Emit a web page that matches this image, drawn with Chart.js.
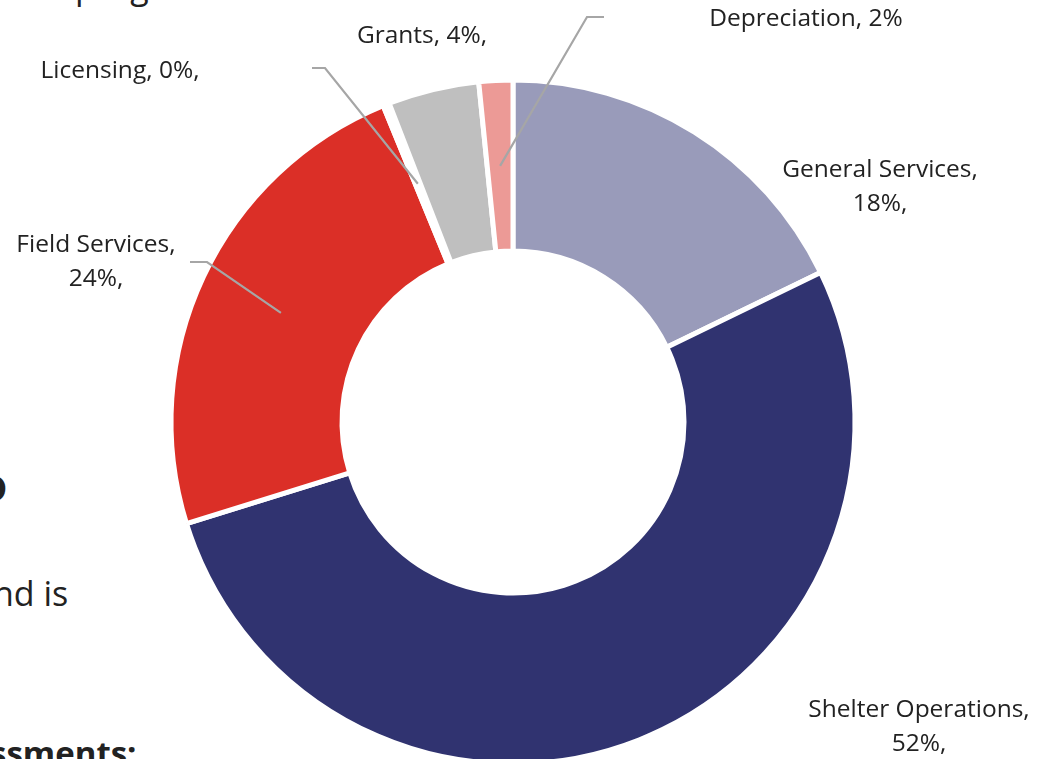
<!DOCTYPE html>
<html lang="en">

<head>
    <meta charset="UTF-8">
    <title>Expenses by program</title>
    <script src="https://cdn.jsdelivr.net/npm/chart.js"></script>
    <style>
        html, body {
            margin: 0;
            padding: 0;
            width: 1038px;
            height: 759px;
            overflow: hidden;
            background: #fff;
            font-family: 'Open Sans', sans-serif;
            color: #222;
        }

        .frag {
            position: absolute;
            white-space: nowrap;
            line-height: 1;
        }

        #chart-box {
            position: absolute;
            left: 0;
            top: 0;
            width: 1038px;
            height: 844px;
        }
    </style>
</head>

<body>
    <!-- bits of the surrounding document text, cut off by the crop -->
    <div class="frag" style="left:75px; top:-31px; font-size:34px;">program</div>
    <div class="frag" style="left:-20px; top:462px; font-size:44px; font-weight:700;">o</div>
    <div class="frag" style="left:-26px; top:576px; font-size:34px;">and is</div>
    <div class="frag" style="left:-10px; top:736px; font-size:33px; font-weight:700;">ssments:</div>

    <div id="chart-box">
        <canvas id="donut"></canvas>
    </div>

    <script>
        // data
        var categories = ['General Services', 'Shelter Operations', 'Field Services', 'Licensing', 'Grants', 'Depreciation'];
        var shares = [17.8, 52.4, 23.6, 0.3, 4.3, 1.6];
        var colors = ['#999bba', '#303370', '#db2f27', '#ffffff', '#bfbfbf', '#ec9a96'];

        // where each data label sits, relative to the centre of the ring
        // (lead = elbow point of the leader line, tail = end of its short flat part)
        var labelLayout = [
            { x: 367, y: -235, wrap: true, comma: true },
            { x: 406, y: 305, wrap: true, comma: true },
            { x: -417, y: -160, wrap: true, comma: true, lead: [-306, -160], tail: [-323, -160] },
            { x: -393, y: -351, wrap: false, comma: true, lead: [-188, -354], tail: [-201, -354] },
            { x: -91, y: -386, wrap: false, comma: true },
            { x: 293, y: -403, wrap: false, comma: false, lead: [74, -405], tail: [91, -405] }
        ];

        var donutLabels = {
            id: 'donutLabels',
            afterDatasetsDraw: function (chart) {
                var ctx = chart.ctx;
                var meta = chart.getDatasetMeta(0);
                var total = shares.reduce(function (a, b) { return a + b; }, 0);
                ctx.save();
                meta.data.forEach(function (arc, i) {
                    var p = arc.getProps(['x', 'y', 'startAngle', 'endAngle', 'innerRadius', 'outerRadius'], true);
                    var lay = labelLayout[i];
                    var cx = p.x, cy = p.y;

                    if (lay.lead) {
                        var mid = (p.startAngle + p.endAngle) / 2;
                        var r = (p.innerRadius + p.outerRadius) / 2;
                        ctx.beginPath();
                        ctx.moveTo(cx + Math.cos(mid) * r, cy + Math.sin(mid) * r);
                        ctx.lineTo(cx + lay.lead[0], cy + lay.lead[1]);
                        ctx.lineTo(cx + lay.tail[0], cy + lay.tail[1]);
                        ctx.strokeStyle = '#a6a6a6';
                        ctx.lineWidth = 2.2;
                        ctx.stroke();
                    }

                    var pct = Math.round(shares[i] / total * 100) + '%' + (lay.comma ? ',' : '');
                    var lines = lay.wrap ? [categories[i] + ',', pct] : [categories[i] + ', ' + pct];
                    ctx.font = '24.5px "Open Sans", sans-serif';
                    ctx.fillStyle = '#222';
                    ctx.textAlign = 'center';
                    ctx.textBaseline = 'middle';
                    var lh = 34;
                    var y0 = cy + lay.y - (lines.length - 1) * lh / 2;
                    lines.forEach(function (t, k) {
                        ctx.fillText(t, cx + lay.x, y0 + k * lh);
                    });
                });
                ctx.restore();
            }
        };

        new Chart(document.getElementById('donut'), {
            type: 'doughnut',
            data: {
                labels: categories,
                datasets: [{
                    data: shares,
                    backgroundColor: colors,
                    borderColor: '#ffffff',
                    borderWidth: 5
                }]
            },
            options: {
                responsive: true,
                maintainAspectRatio: false,
                animation: false,
                radius: 342,
                cutout: '50%',
                layout: {
                    padding: { left: 173, right: 185, top: 82, bottom: 82 }
                },
                plugins: {
                    legend: { display: false },
                    tooltip: { enabled: false }
                }
            },
            plugins: [donutLabels]
        });
    </script>
</body>

</html>
